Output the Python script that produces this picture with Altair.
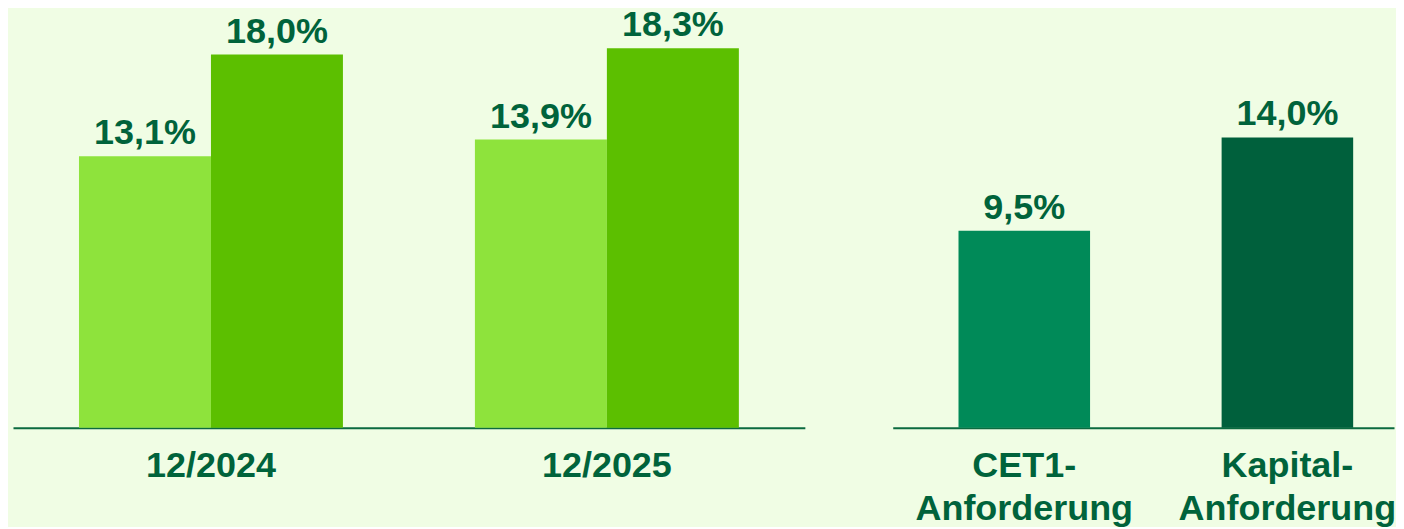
import altair as alt
import pandas as pd

# ---- data ----
periods = ["12/2024", "12/2025"]
series_names = ["CET1-Quote", "Gesamtkapitalquote"]
cet1_values = [13.1, 13.9]
total_values = [18.0, 18.3]

req_names = ["CET1-Anforderung", "Kapital-Anforderung"]
req_values = [9.5, 14.0]

# ---- styles ----
BG = "#f0fde4"
TXT = "#00633b"
SERIES_COLORS = ["#8ee33c", "#5cbf00"]
REQ_COLORS = ["#008a58", "#00603c"]
FONT = "Liberation Sans"
FS = 36
YMAX = 20.13


def fmt(v):
    return f"{v:.1f}%".replace(".", ",")


rows = []
for i, p in enumerate(periods):
    rows.append({"period": p, "series": series_names[0], "value": cet1_values[i]})
    rows.append({"period": p, "series": series_names[1], "value": total_values[i]})
left_df = pd.DataFrame(rows)
left_df["label"] = left_df["value"].map(fmt)

right_df = pd.DataFrame({"req": req_names, "value": req_values})
right_df["label"] = right_df["value"].map(fmt)

yscale = alt.Scale(domain=[0, YMAX], nice=False, zero=True)

axis_common = dict(
    title=None,
    labelAngle=0,
    ticks=False,
    grid=False,
    domainColor="#0b6a3f",
    domainWidth=2,
    labelFont=FONT,
    labelFontSize=FS,
    labelFontWeight="bold",
    labelColor=TXT,
    labelPadding=21,
    labelLineHeight=43,
    labelLimit=0,
)

# ---- left panel ----
lx = alt.X("period:N", sort=periods,
           scale=alt.Scale(paddingInner=1 / 3, paddingOuter=1 / 6),
           axis=alt.Axis(**axis_common))
lxo = alt.XOffset("series:N", sort=series_names,
                  scale=alt.Scale(paddingInner=0, paddingOuter=0))
ly = alt.Y("value:Q", scale=yscale, axis=None)

left_base = alt.Chart(left_df).encode(x=lx, xOffset=lxo, y=ly)
left_bars = left_base.mark_bar().encode(
    color=alt.Color("series:N", sort=series_names,
                    scale=alt.Scale(domain=series_names, range=SERIES_COLORS),
                    legend=None)
)
left_text = left_base.mark_text(
    baseline="alphabetic", dy=-12, font=FONT, fontSize=FS,
    fontWeight="bold", color=TXT
).encode(text="label:N")
left = alt.layer(left_bars, left_text).properties(width=793, height=418)

# ---- right panel ----
rx = alt.X("req:N", sort=req_names,
           scale=alt.Scale(paddingInner=0.5, paddingOuter=0.2026, align=0.617),
           axis=alt.Axis(
               labelExpr="[slice(datum.label, 0, indexof(datum.label, '-') + 1), "
                         "slice(datum.label, indexof(datum.label, '-') + 1)]",
               **axis_common))
ry = alt.Y("value:Q", scale=yscale, axis=None)
right_base = alt.Chart(right_df).encode(x=rx, y=ry)
right_bars = right_base.mark_bar().encode(
    color=alt.Color("req:N", sort=req_names,
                    scale=alt.Scale(domain=req_names, range=REQ_COLORS),
                    legend=None)
)
right_text = right_base.mark_text(
    baseline="alphabetic", dy=-12, font=FONT, fontSize=FS,
    fontWeight="bold", color=TXT
).encode(text="label:N")
right = alt.layer(right_bars, right_text).properties(width=502, height=418)

chart = alt.hconcat(left, right, spacing=88, bounds="flush").resolve_scale(
    color="independent", x="independent"
).properties(
    background=BG,
    padding={"left": 5, "top": -2, "right": 0, "bottom": 0},
).configure_view(stroke=None).configure_concat(spacing=88)

chart.save("out.html", embed_options={"renderer": "svg", "actions": False})
